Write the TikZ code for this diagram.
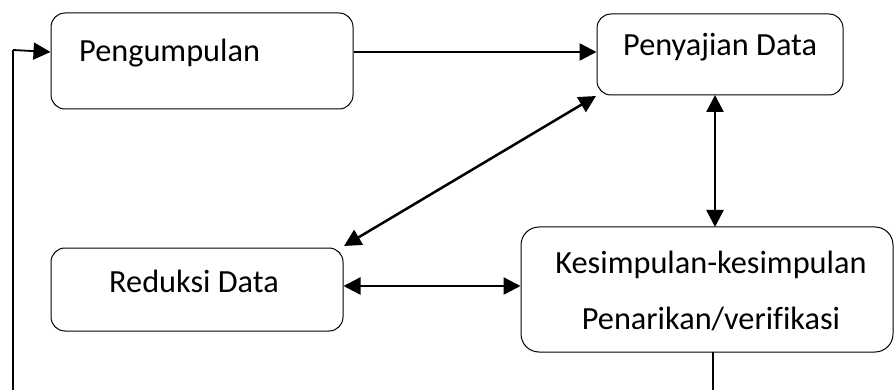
\documentclass[tikz,border=0pt]{standalone}
\usepackage{fontspec}
\setmainfont[Ligatures=CommonOff]{Carlito}
\usetikzlibrary{arrows.meta}
\begin{document}
\begin{tikzpicture}[x=1pt,y=-1pt,
  box/.style={draw=black, line width=1pt, rounded corners=14pt, inner sep=0pt, rectangle},
  lbl/.style={inner sep=0pt, font=\fontsize{32.3}{36}\selectfont},
  tip/.tip={Triangle[length=17pt,width=17pt]},
  arr/.style={line width=2.5pt, -tip},
  darr/.style={line width=2.5pt, tip-tip},
  fb/.style={line width=1.3pt}]
\useasboundingbox (0,0) rectangle (894,390);
% boxes
\node[box, minimum width=302pt, minimum height=96pt] (pg) at (202,61) {};
\node[box, minimum width=246pt, minimum height=81pt] (pj) at (720,54.5) {};
\node[box, minimum width=292pt, minimum height=83pt] (rd) at (197,289.5) {};
\node[box, minimum width=372pt, minimum height=125pt, rounded corners=18pt] (ks) at (707,289.5) {};
% texts
\node[lbl, anchor=base west] (tpg) at (79,62) {Pengumpulan};
\node[lbl, anchor=base west] (tpj) at (623,56) {Penyajian Data};
\node[lbl, anchor=base] (trd) at (194,292) {Reduksi Data};
\node[lbl, anchor=base] (tks1) at (711,273) {Kesimpulan-kesimpulan};
\node[lbl, anchor=base] (tks2) at (711,329) {Penarikan/verifikasi};
% connectors
\draw[arr] (pg.east |- 0,52) -- (pj.west |- 0,52);
\coordinate (d1) at (596,96);
\coordinate (d2) at (344,246);
\draw[darr] (d1) -- (d2);
\coordinate (v1) at (715,95);
\coordinate (v2) at (715,227);
\draw[darr] (v1) -- (v2);
\draw[darr] (rd.east |- 0,286) -- (ks.west |- 0,286);
% feedback
\coordinate (fbtop) at (713,352);
\coordinate (fbend) at (713,390);
\draw[fb] (fbtop) -- (fbend);
\coordinate (fl0) at (13,390);
\coordinate (fl1) at (13,50);
\draw[fb] (fl0) -- (fl1);
\draw[line width=1.8pt, -tip] (fl1) -- (pg.west |- 0,52);
\end{tikzpicture}
\end{document}
